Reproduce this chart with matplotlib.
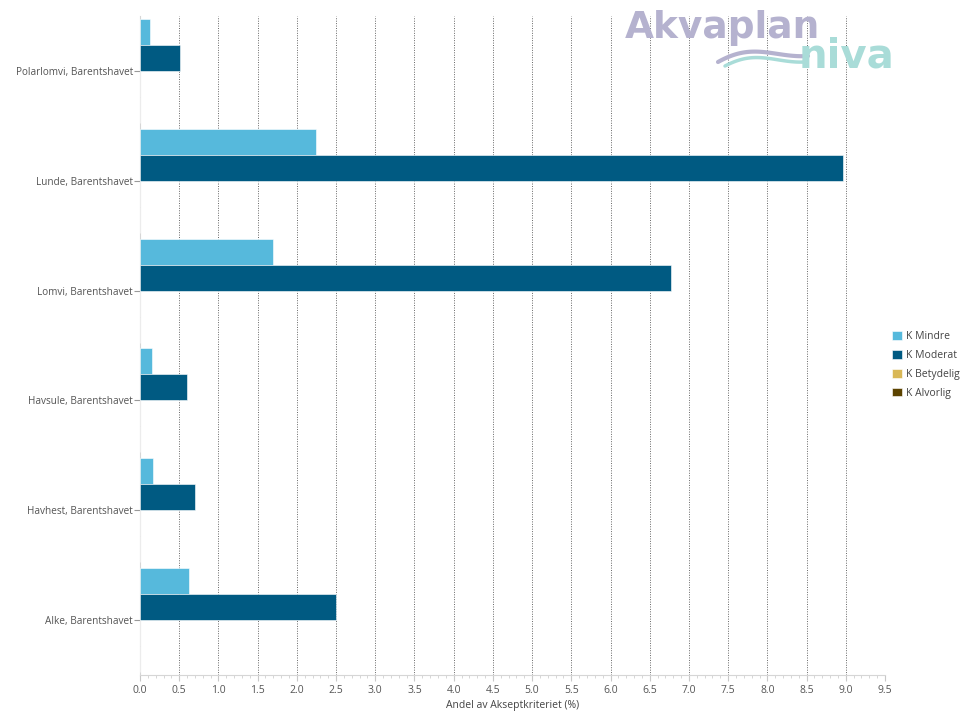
import numpy as np
import matplotlib
matplotlib.use("Agg")
import matplotlib.pyplot as plt
from matplotlib.ticker import MultipleLocator

plt.rcParams["font.family"] = ["Open Sans", "DejaVu Sans"]

# data, listed top to bottom
categories = ["Polarlomvi, Barentshavet", "Lunde, Barentshavet", "Lomvi, Barentshavet",
              "Havsule, Barentshavet", "Havhest, Barentshavet", "Alke, Barentshavet"]
k_mindre = [0.13, 2.24, 1.70, 0.15, 0.17, 0.63]
k_moderat = [0.51, 8.97, 6.77, 0.60, 0.70, 2.50]
k_betydelig = [0.0, 0.0, 0.0, 0.0, 0.0, 0.0]
k_alvorlig = [0.0, 0.0, 0.0, 0.0, 0.0, 0.0]

series = [
    ("K Mindre", k_mindre, "#56b9dc"),
    ("K Moderat", k_moderat, "#005a82"),
    ("K Betydelig", k_betydelig, "#d9b857"),
    ("K Alvorlig", k_alvorlig, "#5c4300"),
]

fig = plt.figure(figsize=(9.62, 7.13), dpi=100)
ax = fig.add_axes([140/962, 1-675/713, 745/962, 659/713])

y = np.arange(len(categories))
h = 0.237
for i, (name, vals, col) in enumerate(series):
    ax.barh(y + (i - 1.5) * h, vals, height=h, color=col, edgecolor="#ffffff",
            linewidth=0.4, label=name, zorder=3)

ax.set_ylim(len(categories) - 0.5, -0.5)
ax.set_yticks(y)
ax.set_yticklabels(categories)
ax.set_xlim(0, 9.5)
ax.xaxis.set_major_locator(MultipleLocator(0.5))
ax.xaxis.set_minor_locator(MultipleLocator(0.1))
ax.set_xticklabels(["{:.1f}".format(v) for v in ax.get_xticks()])
ax.grid(axis="x", which="major", color="#666666", linestyle=(0, (1, 1.5)), linewidth=0.7, zorder=0)

for s in ["top", "right"]:
    ax.spines[s].set_visible(False)
for s in ["left", "bottom"]:
    ax.spines[s].set_color("#d6d6d6")
ax.tick_params(axis="both", labelcolor="#555555", color="#c8c8c8")
ax.tick_params(axis="x", which="major", length=4, pad=3, labelsize=7.5)
ax.tick_params(axis="x", which="minor", length=2.5, color="#d0d0d0")
ax.tick_params(axis="y", length=4, pad=1, color="#999999", labelsize=7.2)
ax.set_xlabel("Andel av Akseptkriteriet (%)", fontsize=7.5, color="#444444", labelpad=3)

leg = fig.legend(loc="upper left", bbox_to_anchor=(888/962, 1-327/713), frameon=False,
                 fontsize=7.5, handlelength=0.9, handleheight=0.9, handletextpad=0.4,
                 labelspacing=0.75, borderaxespad=0)
for t in leg.get_texts():
    t.set_color("#444444")

# logo
fig.text(625/962, 1-38/713, "Akvaplan", fontsize=27, fontweight="bold", color="#b5b2cf",
         family=["DejaVu Sans"], ha="left", va="baseline", zorder=5)
fig.text(799/962, 1-68/713, "niva", fontsize=29, fontweight="bold", color="#a9dcd8",
         family=["DejaVu Sans"], ha="left", va="baseline", zorder=5)
# swoosh under the logo
t = np.linspace(0, 1, 60)
fig.add_artist(plt.Line2D((718 + 90 * t) / 962, 1 - (62 - 14 * np.sin(np.pi * t) * (1 - t) - 6 * t) / 713,
                          color="#b5b2cf", linewidth=3, solid_capstyle="round"))
fig.add_artist(plt.Line2D((725 + 80 * t) / 962, 1 - (66 - 12 * np.sin(np.pi * t) * (1 - t) - 4 * t) / 713,
                          color="#a9dcd8", linewidth=2.5, solid_capstyle="round"))

fig.savefig("out.png", dpi=100)
